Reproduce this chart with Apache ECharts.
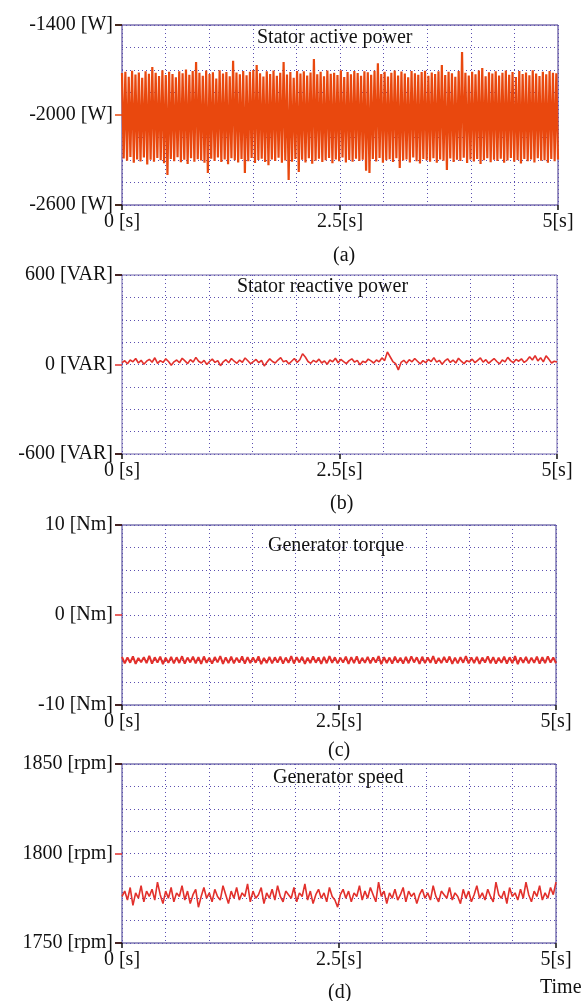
<!DOCTYPE html>
<html><head><meta charset="utf-8">
<script src="https://cdn.jsdelivr.net/npm/echarts@6/dist/echarts.min.js"></script>
<style>html,body{margin:0;padding:0;background:#fff}#c{width:583px;height:1001px}</style>
</head><body><div id="c"></div>
<script>
// ---------- data ----------
const timeSpan = [0, 5];
const xTickLabels = ['0 [s]', '2.5[s]', '5[s]'];
const panelTitles = ['Stator active power', 'Stator reactive power', 'Generator torque', 'Generator speed'];
const panelCaptions = ['(a)', '(b)', '(c)', '(d)'];
const xAxisName = 'Time';

const yRangeActive = [-2600, -1400];
const yRangeReactive = [-600, 600];
const yRangeTorque = [-10, 10];
const yRangeSpeed = [1750, 1850];

const yLabelsActive = ['-2600 [W]', '-2000 [W]', '-1400 [W]'];
const yLabelsReactive = ['-600 [VAR]', '0 [VAR]', '600 [VAR]'];
const yLabelsTorque = ['-10 [Nm]', '0 [Nm]', '10 [Nm]'];
const yLabelsSpeed = ['1750 [rpm]', '1800 [rpm]', '1850 [rpm]'];

// Stator active power [W]: successive oscillation peaks and troughs
const activePeaks = [
 -1720,-1712,-1745,-1705,-1730,-1716,-1752,-1708,-1725,-1680,
 -1718,-1740,-1702,-1733,-1711,-1726,-1748,-1709,-1722,-1697,
 -1731,-1706,-1647,-1719,-1738,-1704,-1727,-1715,-1756,-1701,
 -1724,-1713,-1742,-1638,-1717,-1729,-1707,-1735,-1712,-1700,
 -1667,-1721,-1744,-1709,-1726,-1703,-1739,-1718,-1647,-1730,
 -1714,-1751,-1706,-1723,-1708,-1737,-1716,-1627,-1729,-1711,
 -1741,-1704,-1725,-1719,-1734,-1702,-1747,-1713,-1728,-1706,
 -1720,-1738,-1709,-1715,-1732,-1705,-1655,-1727,-1712,-1743,
 -1718,-1703,-1736,-1710,-1724,-1749,-1707,-1721,-1731,-1714,
 -1705,-1739,-1716,-1727,-1708,-1667,-1733,-1711,-1722,-1745,
 -1706,-1580,-1719,-1736,-1712,-1728,-1703,-1687,-1741,-1715,
 -1724,-1709,-1737,-1718,-1704,-1731,-1713,-1746,-1707,-1726,
 -1717,-1735,-1702,-1723,-1740,-1711,-1729,-1706,-1719,-1722
];
const activeTroughs = [
 -2290,-2305,-2280,-2318,-2296,-2310,-2284,-2330,-2298,-2312,
 -2287,-2301,-2322,-2400,-2293,-2308,-2281,-2315,-2299,-2326,
 -2288,-2311,-2295,-2304,-2319,-2387,-2291,-2306,-2283,-2314,
 -2297,-2328,-2289,-2302,-2316,-2294,-2387,-2309,-2286,-2320,
 -2300,-2292,-2313,-2335,-2297,-2307,-2285,-2318,-2303,-2433,
 -2311,-2294,-2380,-2299,-2316,-2288,-2325,-2305,-2292,-2314,
 -2301,-2287,-2321,-2296,-2309,-2283,-2317,-2300,-2312,-2291,
 -2306,-2298,-2372,-2387,-2293,-2310,-2286,-2319,-2302,-2295,
 -2313,-2289,-2353,-2304,-2297,-2316,-2284,-2308,-2324,-2293,
 -2301,-2311,-2288,-2318,-2296,-2305,-2367,-2290,-2314,-2299,
 -2307,-2285,-2320,-2297,-2310,-2293,-2326,-2302,-2288,-2315,
 -2298,-2306,-2291,-2319,-2303,-2286,-2312,-2300,-2323,-2294,
 -2309,-2297,-2316,-2289,-2305,-2301,-2318,-2293,-2308,-2296
];

// Stator reactive power [VAR]
const reactivePower = [
 12,25,5,30,18,40,10,28,2,22,
 35,15,45,8,26,14,38,20,-5,18,
 30,12,42,24,6,33,16,48,22,10,
 28,0,20,36,14,26,-8,18,32,12,
 40,22,8,30,15,44,25,5,20,34,
 12,28,-10,16,38,20,10,30,46,18,
 26,4,22,40,14,32,72,50,20,8,
 28,16,36,10,24,2,30,18,42,12,
 34,20,6,26,38,16,28,-2,22,14,
 36,24,10,30,18,44,26,84,52,20,
 6,-36,14,28,8,32,18,40,22,4,
 26,12,34,20,46,16,28,2,24,38,
 14,30,10,42,22,6,26,18,36,12,
 28,44,16,32,8,24,40,20,4,30,
 18,48,26,12,34,22,38,14,28,52,
 30,60,24,46,18,58,36,10,22,16
];

// Generator torque [Nm]
const torque = [
 -4.65,-5.38,-4.72,-5.30,-4.60,-5.42,-4.78,-5.25,-4.68,-5.35,
 -4.55,-5.40,-4.70,-5.28,-4.62,-5.45,-4.75,-5.32,-4.66,-5.37,
 -4.70,-5.33,-4.58,-5.41,-4.73,-5.27,-4.64,-5.36,-4.69,-5.44,
 -4.61,-5.31,-4.76,-5.39,-4.67,-5.26,-4.57,-5.43,-4.71,-5.34,
 -4.63,-5.38,-4.74,-5.29,-4.59,-5.40,-4.68,-5.35,-4.72,-5.30,
 -4.60,-5.46,-4.77,-5.33,-4.65,-5.37,-4.70,-5.28,-4.62,-5.41,
 -4.73,-5.32,-4.56,-5.39,-4.69,-5.27,-4.64,-5.44,-4.75,-5.35,
 -4.61,-5.30,-4.72,-5.42,-4.66,-5.36,-4.58,-5.31,-4.70,-5.38,
 -4.74,-5.29,-4.63,-5.43,-4.68,-5.34,-4.60,-5.40,-4.76,-5.32,
 -4.65,-5.37,-4.71,-5.28,-4.57,-5.45,-4.69,-5.33,-4.73,-5.39,
 -4.62,-5.30,-4.75,-5.41,-4.66,-5.36,-4.59,-5.27,-4.70,-5.44,
 -4.64,-5.35,-4.72,-5.31,-4.58,-5.40,-4.77,-5.34,-4.67,-5.29,
 -4.61,-5.42,-4.74,-5.37,-4.69,-5.30,-4.56,-5.38,-4.71,-5.33,
 -4.65,-5.43,-4.73,-5.28,-4.60,-5.36,-4.68,-5.41,-4.75,-5.32,
 -4.63,-5.39,-4.70,-5.34,-4.57,-5.45,-4.72,-5.30,-4.66,-5.37,
 -4.74,-5.31,-4.62,-5.40,-4.69,-5.35,-4.59,-5.29,-4.71,-5.36
];

// Generator speed [rpm]
const speed = [
 1776,1779,1774,1781,1771,1778,1775,1782,1773,1779,
 1776,1780,1774,1784,1777,1772,1779,1775,1781,1773,
 1778,1776,1782,1774,1779,1772,1777,1780,1770,1776,
 1781,1775,1778,1773,1780,1776,1774,1782,1777,1772,
 1779,1775,1781,1774,1778,1776,1783,1773,1779,1775,
 1777,1781,1772,1778,1775,1780,1774,1782,1776,1773,
 1779,1777,1775,1781,1773,1778,1776,1783,1774,1779,
 1772,1777,1780,1775,1778,1773,1781,1776,1774,1770,
 1777,1780,1775,1779,1773,1778,1776,1782,1774,1779,
 1775,1781,1777,1773,1784,1776,1779,1772,1778,1775,
 1780,1774,1777,1781,1773,1779,1776,1778,1772,1777,
 1780,1775,1778,1774,1782,1776,1773,1779,1777,1775,
 1781,1774,1778,1776,1772,1780,1775,1779,1773,1777,
 1782,1775,1778,1774,1780,1776,1773,1784,1777,1775,
 1779,1772,1781,1776,1778,1774,1780,1775,1784,1777,
 1773,1779,1776,1782,1774,1778,1775,1781,1777,1784
];

// ---------- build ----------
function timeSeries(vals) {
  const n = vals.length;
  return vals.map((v, i) => [timeSpan[0] + (timeSpan[1] - timeSpan[0]) * i / (n - 1), v]);
}
const activeSignal = [];
for (let i = 0; i < activePeaks.length; i++) { activeSignal.push(activePeaks[i]); activeSignal.push(activeTroughs[i]); }

const FONT = 'Liberation Serif';
const panels = [
  { top: 25, height: 180, width: 436, range: yRangeActive, labels: yLabelsActive, data: timeSeries(activeSignal), color: '#E9480E', lw: 2.2, border: '#3a2a86', titleLeft: 257, titleTop: 28, capLeft: 333, capTop: 246 },
  { top: 275, height: 179, width: 435, range: yRangeReactive, labels: yLabelsReactive, data: timeSeries(reactivePower), color: '#E2302C', lw: 1.6, border: '#6f65a8', titleLeft: 237, titleTop: 277, capLeft: 330, capTop: 494 },
  { top: 525, height: 180, width: 434, range: yRangeTorque, labels: yLabelsTorque, data: timeSeries(torque), color: '#E2302C', lw: 2, border: '#3a3288', titleLeft: 268, titleTop: 536, capLeft: 328, capTop: 741 },
  { top: 764, height: 179, width: 434, range: yRangeSpeed, labels: yLabelsSpeed, data: timeSeries(speed), color: '#E2302C', lw: 1.6, border: '#3a3288', titleLeft: 273, titleTop: 768, capLeft: 328, capTop: 983 }
];

const textStyle = { fontFamily: FONT, fontSize: 20, fontWeight: 'normal', color: '#111' };
const dotted = { color: '#5b4fb0', width: 1, type: [1, 3] };

const grid = [], xAxis = [], yAxis = [], series = [], title = [];
panels.forEach((p, k) => {
  grid.push({ left: 122, top: p.top, width: p.width, height: p.height, show: true, borderColor: p.border, borderWidth: 1, backgroundColor: 'transparent' });
  // x: grid lines every 0.5 s
  xAxis.push({ gridIndex: k, type: 'value', position: 'bottom', min: timeSpan[0], max: timeSpan[1], interval: 0.5,
    axisLine: { show: false }, axisTick: { show: false }, axisLabel: { show: false },
    splitLine: { show: true, lineStyle: dotted } });
  // x: ticks + labels
  xAxis.push({ gridIndex: k, type: 'value', position: 'bottom', min: timeSpan[0], max: timeSpan[1], interval: 2.5,
    axisLine: { show: false }, splitLine: { show: false },
    axisTick: { show: true, length: 5, lineStyle: { color: '#111', width: 1.5 } },
    axisLabel: { show: true, margin: 7, fontFamily: FONT, fontSize: 20, color: '#111',
      formatter: v => xTickLabels[Math.round(v / 2.5)] } });
  // y: data axis (hidden)
  yAxis.push({ gridIndex: k, type: 'value', position: 'left', min: p.range[0], max: p.range[1], show: false });
  // y: grid lines (8 divisions)
  yAxis.push({ gridIndex: k, type: 'value', position: 'left', min: 0, max: 8, interval: 1,
    axisLine: { show: false }, axisTick: { show: false }, axisLabel: { show: false },
    splitLine: { show: true, lineStyle: dotted } });
  // y: coloured ticks + labels
  yAxis.push({ gridIndex: k, type: 'value', position: 'left', min: 0, max: 2, interval: 1,
    axisLine: { show: false }, splitLine: { show: false },
    axisTick: { show: true, length: 7, lineStyle: { color: p.color, width: 1.5 } },
    axisLabel: { show: true, margin: 9, fontFamily: FONT, fontSize: 20, color: '#111',
      formatter: v => p.labels[Math.round(v)] } });
  // y: black end ticks
  yAxis.push({ gridIndex: k, type: 'value', position: 'left', min: 0, max: 1, interval: 1, z: 5,
    axisLine: { show: false }, splitLine: { show: false }, axisLabel: { show: false },
    axisTick: { show: true, length: 7, lineStyle: { color: '#111', width: 1.5 } } });

  series.push({ type: 'line', xAxisIndex: 2 * k, yAxisIndex: 4 * k, data: p.data, showSymbol: false, symbol: 'none',
    animation: false, sampling: null, z: 3,
    lineStyle: { color: p.color, width: p.lw }, clip: true });

  title.push({ text: panelTitles[k], left: p.titleLeft, top: p.titleTop, padding: 0, textStyle });
  title.push({ text: panelCaptions[k], left: p.capLeft, top: p.capTop, padding: 0, textStyle });
});
title.push({ text: xAxisName, left: 540, top: 978, padding: 0, textStyle });

const chart = echarts.init(document.getElementById('c'), null, { renderer: 'canvas' });
chart.setOption({ animation: false, backgroundColor: '#fff', grid, xAxis, yAxis, series, title });
</script></body></html>
